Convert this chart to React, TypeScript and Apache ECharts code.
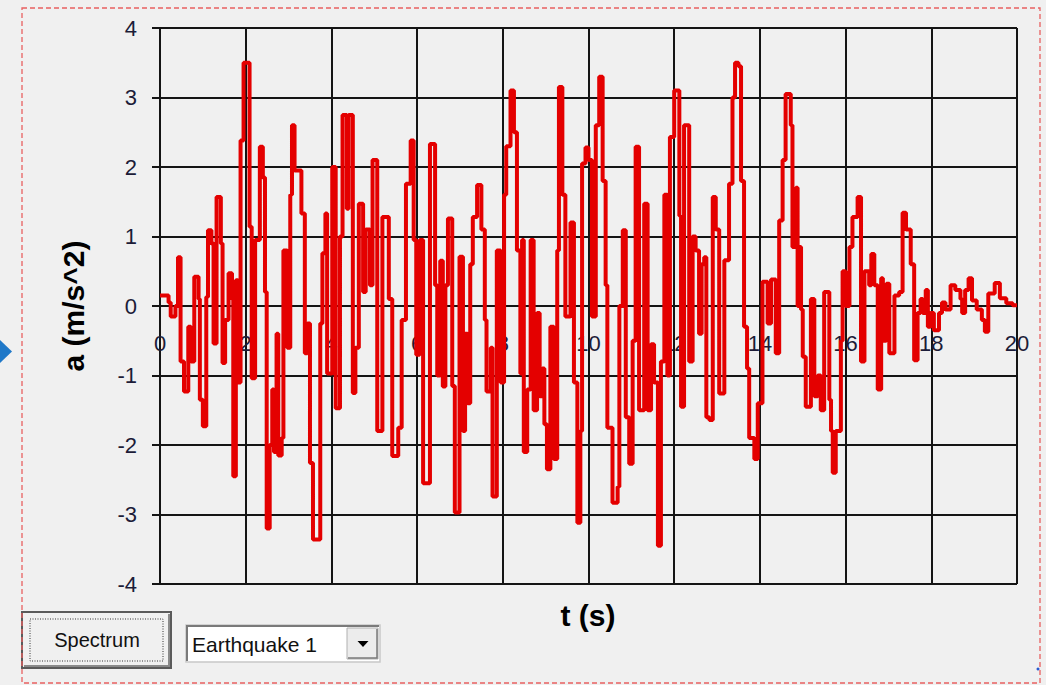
import React, { useEffect, useRef } from "react";
import * as echarts from "echarts";

// time (s) of each sample
const times: number[] = [
  0, 0.2, 0.25, 0.36, 0.42, 0.48, 0.56, 0.66, 0.72, 0.8, 0.9, 0.93, 1.0, 1.08, 1.12, 1.2, 1.25, 1.32, 1.42, 1.46,
  1.52, 1.6, 1.68, 1.71, 1.77, 1.82, 1.88, 1.95, 2.09, 2.14, 2.22, 2.33, 2.4, 2.45, 2.49, 2.56, 2.62, 2.66, 2.72,
  2.76, 2.84, 2.88, 2.97, 3.04, 3.08, 3.14,
  3.2, 3.3, 3.38, 3.44, 3.5, 3.57, 3.74, 3.79, 3.86, 3.9, 4.02, 4.1, 4.2, 4.26, 4.36, 4.4, 4.5, 4.56, 4.64, 4.74,
  4.8, 4.9, 4.96, 5.07, 5.19, 5.34, 5.42, 5.56, 5.64, 5.74, 5.85, 5.92, 5.98, 6.06, 6.14, 6.3, 6.42, 6.47, 6.54,
  6.6, 6.66,
  6.72, 6.82, 6.88, 6.99, 7.07, 7.12, 7.18, 7.24, 7.3, 7.4, 7.5, 7.58, 7.62, 7.72, 7.76, 7.86, 7.95, 8.03, 8.08,
  8.18, 8.26, 8.33, 8.41, 8.45, 8.49, 8.57, 8.65, 8.72, 8.8, 8.86, 8.92, 8.97, 9.03, 9.11, 9.19, 9.27, 9.31, 9.39,
  9.46, 9.58, 9.66, 9.74, 9.81, 9.85, 9.93,
  10.0, 10.08, 10.17, 10.25, 10.33, 10.4, 10.44, 10.56, 10.68, 10.72, 10.8, 10.87, 10.95, 11.03, 11.1, 11.18, 11.3,
  11.38, 11.46, 11.53, 11.62, 11.69, 11.77, 11.84, 11.9, 12.0, 12.12, 12.16, 12.23, 12.35, 12.43, 12.5, 12.58,
  12.64, 12.7, 12.75, 12.82, 12.9, 12.97, 13.05, 13.17, 13.28, 13.36, 13.42,
  13.5, 13.56, 13.63, 13.7, 13.75, 13.87, 13.95, 14.06, 14.18, 14.26, 14.37, 14.45, 14.53, 14.6, 14.72, 14.76,
  14.84, 14.88, 14.92, 14.96, 15.0, 15.07, 15.19, 15.27, 15.35, 15.42, 15.5, 15.62, 15.66, 15.7, 15.77, 15.89,
  15.93, 16.0, 16.09, 16.16, 16.28, 16.36, 16.44, 16.55, 16.6, 16.67, 16.75, 16.83,
  16.87, 16.95, 17.02, 17.14, 17.25, 17.33, 17.41, 17.52, 17.6, 17.68, 17.75, 17.8, 17.87, 17.92, 17.98, 18.06,
  18.18, 18.25, 18.33, 18.45, 18.56, 18.68, 18.72, 18.79, 18.87, 18.95, 19.06, 19.18, 19.25, 19.33, 19.48, 19.6,
  19.75, 19.9, 20.0,
];

// acceleration a (m/s^2) at each sample
const accel: number[] = [
  0.15, 0.05, -0.15, 0.0, 0.7, -0.8, -1.23, -0.3, -0.8, 0.42, 0.1, -1.35, -1.73, 0.13, 1.09, 0.9, -0.54, 1.57, 0.9,
  -0.82, -0.2, 0.47, 0.1, -2.45, 0.37, -1.1, 2.38, 3.5, 1.14, -1.04, 0.95, 2.29, 1.85, 0.2, -3.2, -2.0, -1.2, -2.1,
  -0.4, -2.15, -1.9, 0.8, -0.6, 1.6, 2.6, 1.95,
  1.95, 1.33, -0.68, -0.25, -2.26, -3.36, -0.25, 0.76, 1.33, -0.97, 2.0, -1.47, 1.0, 2.75, 1.4, 2.75, -1.25, -0.6,
  1.47, 0.2, 1.1, 0.3, 2.1, -1.8, 1.28, 0.1, -2.16, -1.75, -0.2, 1.76, 2.38, 0.95, -0.7, 0.95, -2.55, 2.33, 0.3,
  -1.0, 0.65, -1.16, 0.3,
  1.26, -1.15, -2.97, 0.71, -1.8, -0.4, -1.4, 0.6, 1.28, 1.74, 1.1, -0.2, -1.23, -0.6, -2.74, 0.8, -1.1, 1.6, 2.3,
  3.1, 2.5, 0.8, -0.97, 0.95, -2.1, -1.2, 0.95, -1.5, -0.1, -1.3, -0.9, -1.7, -2.35, -0.3, -2.2, 0.8, 3.15, 1.6,
  -0.15, 1.2, -1.1, -3.12, -1.8, 2.05, 2.28,
  2.1, -0.15, 2.6, 3.3, 1.8, 0.3, -1.75, -2.83, -2.6, 0.0, 1.09, -1.6, -2.27, -0.5, 2.29, -1.5, 1.47, -1.5, -0.55,
  -1.1, -3.45, -0.8, 1.6, -1.0, 2.43, 3.1, 1.3, -1.45, 2.6, -0.8, 1.0, 0.8, -0.4, 0.6, 0.7, -1.6, -1.64, 1.57, 1.1,
  -1.26, 0.66, 1.76, 3.0, 3.5,
  3.45, 1.8, -0.3, -0.9, -1.9, -2.2, -1.4, 0.35, -0.25, 0.38, -0.68, 1.23, 2.1, 3.05, 2.6, 0.85, 1.7, 0.0, 0.85,
  -0.05, -0.73, -1.45, 0.1, -1.3, -1.0, -1.5, 0.2, -1.35, -1.8, -2.4, -1.8, -0.5, 0.5, 0.0, 0.85, 1.28, 1.57, -0.8,
  0.5, 0.3, 0.75, 0.3, -1.2, 0.4,
  -0.5, 0.32, -0.68, 0.15, 0.2, 1.34, 1.1, 0.6, -0.78, -0.1, 0.1, -0.1, 0.23, -0.3, -0.1, -0.35, -0.1, 0.05, -0.05,
  0.3, 0.23, 0.1, -0.1, 0.23, 0.4, 0.08, -0.05, -0.2, -0.37, 0.18, 0.33, 0.11, 0.04, 0.01, 0.01,
];

const xAxisTitle = "t (s)";
const yAxisTitle = "a (m/s^2)";
const buttonLabel = "Spectrum";
const dropdownLabel = "Earthquake 1";

const LABEL_COLOR = "#1c1c38";
const GRID_COLOR = "#141414";
const BG = "#f0f0f0";
const FONT = "Arial, 'Liberation Sans', sans-serif";

export default function App() {
  const ref = useRef<HTMLDivElement>(null);

  useEffect(() => {
    if (!ref.current) return;
    const chart = echarts.init(ref.current, null, { renderer: "svg" });
    const data = times.map((t, i) => [t, accel[i]]);

    chart.setOption({
      animation: false,
      backgroundColor: BG,
      grid: { left: 160, right: 29, top: 28, bottom: 101, show: false },
      xAxis: [
        {
          // axis drawn through a = 0 (half the plot height above the bottom)
          type: "value",
          min: 0,
          max: 20,
          interval: 2,
          position: "bottom",
          offset: -278,
          axisLine: { show: true, onZero: false, lineStyle: { color: GRID_COLOR, width: 2 } },
          axisTick: { show: true, length: 6, lineStyle: { color: GRID_COLOR, width: 2 } },
          axisLabel: { margin: 26, color: LABEL_COLOR, fontFamily: FONT, fontSize: 22 },
          splitLine: { show: true, lineStyle: { color: GRID_COLOR, width: 2 } },
        },
      ],
      yAxis: {
        type: "value",
        min: -4,
        max: 4,
        interval: 1,
        name: yAxisTitle,
        nameLocation: "middle",
        nameGap: 72,
        nameTextStyle: { color: "#000", fontFamily: FONT, fontWeight: "bold", fontSize: 30 },
        axisLine: { show: true, onZero: false, lineStyle: { color: GRID_COLOR, width: 2 } },
        axisTick: { show: true, length: 8, lineStyle: { color: GRID_COLOR, width: 2 } },
        axisLabel: { margin: 23, color: LABEL_COLOR, fontFamily: FONT, fontSize: 22 },
        splitLine: { show: true, lineStyle: { color: GRID_COLOR, width: 2 } },
      },
      series: [
        {
          type: "line",
          step: "end",
          data,
          showSymbol: false,
          symbol: "none",
          lineStyle: { color: "#e40000", width: 4 },
          z: 5,
        },
      ],
      graphic: [
        {
          type: "rect",
          shape: { x: 22, y: 8, width: 1018, height: 675 },
          style: { fill: "none", stroke: "#e86060", lineWidth: 1.3, lineDash: [5, 3] },
          silent: true,
          z: 1,
        },
        {
          type: "polygon",
          shape: { points: [[0, 340], [12, 351.5], [0, 363]] },
          style: { fill: "#1f78c8" },
          z: 10,
        },
        {
          type: "text",
          x: 588,
          y: 615,
          style: {
            text: xAxisTitle,
            fill: "#000",
            font: "bold 30px " + FONT,
            textAlign: "center",
            textVerticalAlign: "middle",
          },
          z: 10,
        },
        {
          type: "group",
          z: 10,
          children: [
            {
              type: "rect",
              shape: { x: 22, y: 612, width: 149, height: 56 },
              style: { fill: "#f0f0f0", stroke: "#5a5a5a", lineWidth: 2 },
            },
            {
              type: "polyline",
              shape: { points: [[24, 666], [169, 666], [169, 614]] },
              style: { fill: "none", stroke: "#8a8a8a", lineWidth: 2 },
            },
            {
              type: "rect",
              shape: { x: 30, y: 619, width: 133, height: 42 },
              style: { fill: "none", stroke: "#333", lineWidth: 1, lineDash: [1, 1.5] },
            },
            {
              type: "text",
              x: 97,
              y: 640,
              style: {
                text: buttonLabel,
                fill: "#111",
                font: "20px " + FONT,
                textAlign: "center",
                textVerticalAlign: "middle",
              },
            },
          ],
        },
        {
          type: "group",
          z: 10,
          children: [
            {
              type: "rect",
              shape: { x: 186, y: 625, width: 194, height: 37 },
              style: { fill: "#ffffff", stroke: "#c8c8c8", lineWidth: 1.5 },
            },
            {
              type: "polyline",
              shape: { points: [[187, 661], [187, 626], [379, 626]] },
              style: { fill: "none", stroke: "#7a7a7a", lineWidth: 2 },
            },
            {
              type: "rect",
              shape: { x: 347, y: 628, width: 31, height: 31 },
              style: { fill: "#ececec", stroke: "#b0b0b0", lineWidth: 1 },
            },
            {
              type: "polyline",
              shape: { points: [[348, 658], [377, 658], [377, 629]] },
              style: { fill: "none", stroke: "#7a7a7a", lineWidth: 1.5 },
            },
            {
              type: "polygon",
              shape: { points: [[357.5, 641], [368.5, 641], [363, 647]] },
              style: { fill: "#000" },
            },
            {
              type: "text",
              x: 192,
              y: 644,
              style: {
                text: dropdownLabel,
                fill: "#111",
                font: "21px " + FONT,
                textAlign: "left",
                textVerticalAlign: "middle",
              },
            },
          ],
        },
        {
          type: "circle",
          shape: { cx: 1038, cy: 669, r: 1.5 },
          style: { fill: "#2a5ad0" },
          z: 10,
        },
      ],
    });

    return () => chart.dispose();
  }, []);

  return (
    <div
      ref={ref}
      style={{ position: "absolute", left: 0, top: 0, width: 1046, height: 685, background: BG }}
    />
  );
}
